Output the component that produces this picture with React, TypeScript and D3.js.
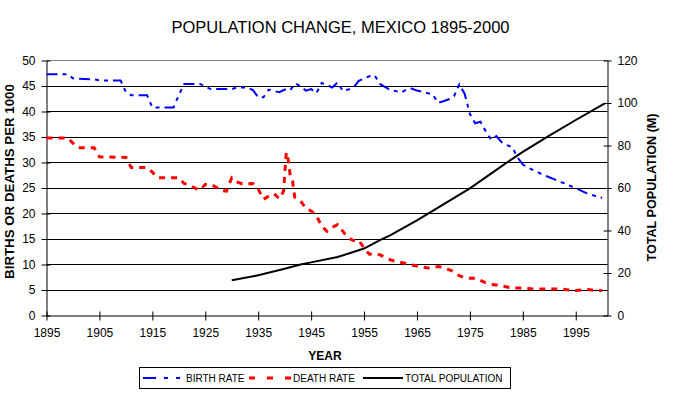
import React, { useEffect, useRef } from 'react';
import * as d3 from 'd3';

// birth rate (per 1000)
const birthYears = [1895, 1899, 1900, 1904, 1905, 1909, 1910, 1911, 1914, 1915, 1919, 1920, 1921, 1924, 1925, 1926, 1930, 1931, 1933, 1934, 1935, 1936, 1937, 1938, 1939, 1940, 1941, 1942, 1943, 1944, 1945, 1946, 1947, 1948, 1949, 1950, 1951, 1952, 1953, 1954, 1955, 1956, 1957, 1958, 1959, 1960, 1961, 1962, 1963, 1964, 1965, 1966, 1967, 1968, 1969, 1970, 1971, 1972, 1973, 1974, 1975, 1976, 1977, 1978, 1979, 1980, 1981, 1982, 1983, 1984, 1985, 1986, 1987, 1988, 1989, 1990, 1991, 1992, 1993, 1994, 1995, 1996, 1997, 1998, 1999, 2000];
const birthRates = [47.3, 47.3, 46.5, 46.3, 46.1, 46.1, 43.8, 43.2, 43.2, 40.8, 40.8, 43.2, 45.4, 45.4, 44.9, 44.4, 44.4, 44.7, 44.7, 44.2, 42.8, 42.8, 44.3, 44.0, 43.8, 44.3, 44.1, 45.5, 45.0, 44.1, 44.4, 43.6, 45.6, 45.2, 44.7, 45.7, 44.0, 44.3, 44.7, 46.0, 46.5, 46.9, 47.1, 45.4, 44.8, 44.2, 44.0, 43.7, 44.3, 44.5, 44.1, 43.9, 43.6, 43.3, 41.7, 42.0, 42.4, 43.0, 45.3, 43.5, 39.5, 37.7, 38.0, 36.1, 34.5, 35.2, 34.0, 33.4, 33.0, 31.0, 29.6, 29.0, 28.5, 28.0, 27.5, 27.1, 26.7, 26.2, 25.9, 25.4, 25.0, 24.5, 24.0, 23.7, 23.3, 23.1];

// death rate (per 1000)
const deathYears = [1895, 1899, 1900, 1901, 1904, 1905, 1910, 1911, 1914, 1915, 1916, 1920, 1921, 1922, 1923, 1924, 1925, 1926, 1927, 1928, 1929, 1930, 1931, 1932, 1934, 1935, 1936, 1937, 1938, 1939, 1939.8, 1940.3, 1940.7, 1941.1, 1941.5, 1941.9, 1943, 1944, 1945, 1946, 1947, 1948, 1949, 1950, 1951, 1952, 1953, 1954, 1955, 1956, 1957, 1958, 1959, 1960, 1961, 1962, 1963, 1964, 1965, 1966, 1967, 1968, 1969, 1970, 1971, 1972, 1973, 1974, 1975, 1976, 1977, 1978, 1979, 1980, 1981, 1982, 1983, 1984, 1985, 1986, 1987, 1988, 1989, 1990, 1991, 1992, 1993, 1994, 1995, 1996, 1997, 1998, 1999, 2000];
const deathRates = [34.8, 34.8, 33.8, 32.9, 32.9, 31.1, 31.0, 29.0, 29.0, 28.1, 27.0, 27.0, 25.9, 25.6, 25.0, 24.6, 25.7, 25.7, 25.2, 24.5, 24.4, 27.0, 26.2, 25.8, 25.9, 24.8, 22.8, 23.4, 23.9, 22.9, 24.4, 32.0, 30.4, 27.0, 26.3, 23.2, 22.5, 21.0, 20.5, 19.6, 17.5, 16.5, 17.3, 17.8, 16.5, 15.2, 14.7, 14.8, 13.2, 12.0, 12.1, 11.9, 11.4, 10.9, 10.6, 10.4, 10.2, 9.9, 9.7, 9.5, 9.3, 9.4, 9.6, 9.4, 9.0, 8.6, 7.8, 7.4, 7.3, 7.3, 6.9, 6.4, 6.1, 6.0, 5.8, 5.6, 5.4, 5.4, 5.4, 5.3, 5.2, 5.2, 5.2, 5.2, 5.2, 5.2, 5.1, 5.0, 4.9, 5.0, 5.1, 5.0, 4.9, 4.9];

// total population (millions)
const popYears = [1930, 1935, 1940, 1943, 1945, 1950, 1955, 1958, 1960, 1965, 1970, 1975, 1980, 1982, 1985, 1990, 1995, 2000.5];
const popValues = [16.6, 18.9, 22.0, 24.0, 25.0, 27.5, 31.5, 35.5, 37.8, 44.8, 52.3, 59.8, 68.5, 72.0, 77.0, 84.6, 92.0, 99.8];

const yearTicks = [1895, 1905, 1915, 1925, 1935, 1945, 1955, 1965, 1975, 1985, 1995];
const rateTicks = [0, 5, 10, 15, 20, 25, 30, 35, 40, 45, 50];
const popTicks = [0, 20, 40, 60, 80, 100, 120];

const FONT = '"Liberation Sans", Arial, sans-serif';

const App: React.FC = () => {
  const ref = useRef<SVGSVGElement | null>(null);

  useEffect(() => {
    if (!ref.current) return;
    const svg = d3.select(ref.current);
    svg.selectAll('*').remove();

    const left = 46.5, right = 607.5, top = 60.5, bottom = 315.5;

    const x = d3.scaleLinear().domain([1895, 2001]).range([left, right]);
    const y = d3.scaleLinear().domain([0, 50]).range([bottom, top]);
    const y2 = d3.scaleLinear().domain([0, 120]).range([bottom, top]);

    svg.append('rect').attr('width', 674).attr('height', 398).attr('fill', '#fff');

    // grid
    svg.append('g')
      .selectAll('line')
      .data(rateTicks.filter(d => d > 0 && d < 50))
      .enter()
      .append('line')
      .attr('x1', left)
      .attr('x2', right)
      .attr('y1', d => Math.floor(y(d)) + 0.5)
      .attr('y2', d => Math.floor(y(d)) + 0.5)
      .attr('stroke', '#000')
      .attr('stroke-width', 1);

    svg.append('line')
      .attr('x1', left).attr('x2', right).attr('y1', top).attr('y2', top)
      .attr('stroke', '#808080');

    // axes
    const styleAxis = (g: d3.Selection<SVGGElement, unknown, null, undefined>) => {
      g.select('.domain').attr('stroke', '#000');
      g.selectAll('.tick line').attr('stroke', '#000');
      g.selectAll('text')
        .attr('fill', '#000')
        .style('font-family', FONT)
        .style('font-size', '12px');
    };

    const gl = svg.append('g')
      .attr('transform', `translate(${left},0)`)
      .call(d3.axisLeft(y).tickValues(rateTicks).tickSize(5).tickPadding(6).tickSizeOuter(0));
    gl.selectAll('.tick line').attr('x2', -5).attr('x1', 4);
    styleAxis(gl);

    const gr = svg.append('g')
      .attr('transform', `translate(${right},0)`)
      .call(d3.axisRight(y2).tickValues(popTicks).tickSize(4).tickPadding(6).tickSizeOuter(0));
    gr.selectAll('.tick line').attr('x1', -4).attr('x2', 4);
    styleAxis(gr);

    const gb = svg.append('g')
      .attr('transform', `translate(0,${bottom})`)
      .call(d3.axisBottom(x).tickValues(yearTicks).tickFormat(d3.format('d')).tickSize(5).tickPadding(7.5).tickSizeOuter(0));
    gb.selectAll('.tick line').attr('y1', -4).attr('y2', 5);
    styleAxis(gb);

    // series
    const birth = birthYears.map((yr, i) => [yr, birthRates[i]] as [number, number]);
    const death = deathYears.map((yr, i) => [yr, deathRates[i]] as [number, number]);
    const pop = popYears.map((yr, i) => [yr, popValues[i]] as [number, number]);

    const rateLine = d3.line<[number, number]>().x(d => x(d[0])).y(d => y(d[1]));
    const popLine = d3.line<[number, number]>().x(d => x(d[0])).y(d => y2(d[1]));

    svg.append('path').datum(pop)
      .attr('d', popLine)
      .attr('fill', 'none')
      .attr('stroke', '#000')
      .attr('stroke-width', 2);

    svg.append('path').datum(death)
      .attr('d', rateLine)
      .attr('fill', 'none')
      .attr('stroke', '#ff0000')
      .attr('stroke-width', 3)
      .attr('stroke-dasharray', '6,6');

    svg.append('path').datum(birth)
      .attr('d', rateLine)
      .attr('fill', 'none')
      .attr('stroke', '#0000ff')
      .attr('stroke-width', 2)
      .attr('stroke-dasharray', '11,5,4,5,4,5');

    // titles
    svg.append('text')
      .attr('x', 340.5).attr('y', 33)
      .attr('text-anchor', 'middle')
      .style('font-family', FONT).style('font-size', '16.5px')
      .text('POPULATION CHANGE, MEXICO 1895-2000');

    svg.append('text')
      .attr('transform', 'translate(13.5,181.5) rotate(-90)')
      .attr('text-anchor', 'middle')
      .style('font-family', FONT).style('font-size', '13.3px').style('font-weight', 'bold')
      .text('BIRTHS OR DEATHS PER 1000');

    svg.append('text')
      .attr('transform', 'translate(655.5,187.5) rotate(-90)')
      .attr('text-anchor', 'middle')
      .style('font-family', FONT).style('font-size', '12.6px').style('font-weight', 'bold')
      .text('TOTAL POPULATION (M)');

    svg.append('text')
      .attr('x', 325).attr('y', 360)
      .attr('text-anchor', 'middle')
      .style('font-family', FONT).style('font-size', '12px').style('font-weight', 'bold')
      .text('YEAR');

    // legend
    const lg = svg.append('g');
    lg.append('rect')
      .attr('x', 139.5).attr('y', 367.5).attr('width', 371).attr('height', 21)
      .attr('fill', '#fff').attr('stroke', '#000');

    const items = [
      { label: 'BIRTH RATE', color: '#0000ff', w: 2, dash: '13,8,4,8,4,8', x0: 143, x1: 180, tx: 186 },
      { label: 'DEATH RATE', color: '#ff0000', w: 3, dash: '6,12', x0: 249, x1: 291, tx: 293 },
      { label: 'TOTAL POPULATION', color: '#000', w: 2, dash: null, x0: 363, x1: 403, tx: 405 },
    ];
    items.forEach(it => {
      lg.append('line')
        .attr('x1', it.x0).attr('x2', it.x1).attr('y1', 378).attr('y2', 378)
        .attr('stroke', it.color).attr('stroke-width', it.w)
        .attr('stroke-dasharray', it.dash);
      lg.append('text')
        .attr('x', it.tx).attr('y', 381.5)
        .style('font-family', FONT).style('font-size', '10px')
        .text(it.label);
    });
  }, []);

  return (
    <div style={{ position: 'absolute', left: 0, top: 0 }}>
      <svg ref={ref} width={674} height={398} style={{ display: 'block' }} />
    </div>
  );
};

export default App;
